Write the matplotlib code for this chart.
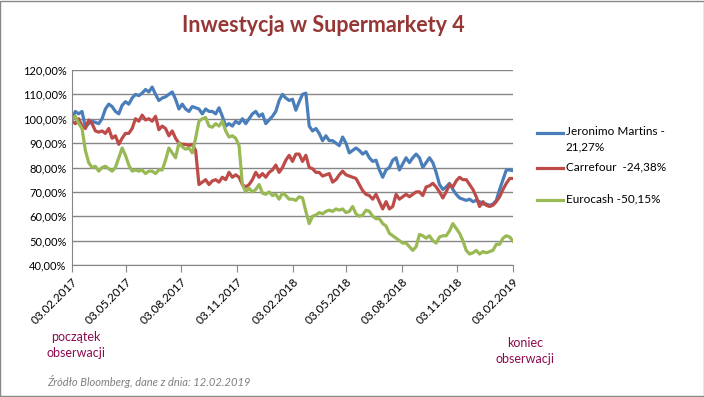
import pandas as pd
from matplotlib import pyplot as plt
from matplotlib.lines import Line2D
from matplotlib.patches import Rectangle
from matplotlib.ticker import FuncFormatter, MultipleLocator

plt.rcParams['font.family'] = ['Lato', 'DejaVu Sans']

start, end = '2017-02-03', '2019-02-03'

# wartości w %
jeronimo = [100, 103, 102, 103, 96.5, 98, 99, 98.5, 98, 100,
            104, 106, 105, 103, 102, 105.5, 107, 106, 108.5, 110,
            109.5, 110.5, 112, 111, 113, 110, 107.5, 108.5, 109, 110,
            111, 108, 104, 106, 104, 103, 105, 104.5, 104, 102,
            104, 103, 103, 102, 104.5, 101, 97, 98, 97, 99,
            98, 100, 98, 100, 102, 103, 101, 102, 98, 99.5,
            101, 103, 107.5, 110, 108.5, 107.5, 108, 103.5, 107, 110,
            110.5, 97, 95, 96, 94, 91, 93, 91, 91, 90,
            89, 92.5, 90, 86, 87, 88, 87, 85.5, 86.5, 84,
            82.5, 83, 79, 76, 79, 80, 83, 84, 79, 81.5,
            84, 82, 84, 85.5, 84, 80, 82, 84, 82, 78,
            73, 71, 72, 73.5, 71, 69, 67.5, 67, 66.5, 67,
            66, 66.5, 66, 65, 65, 64.5, 65, 66.5, 71, 75,
            79, 79, 78.7]

carrefour = [99, 98, 100, 97, 96, 99.5, 98, 95, 94.5, 95,
             94, 96, 92, 93, 89.5, 92, 94, 94, 96, 100,
             99, 101.5, 99.5, 100, 99, 101, 95.5, 97, 96, 93,
             95, 92, 90, 89.5, 89.5, 89, 89.5, 87, 73, 74,
             75, 73, 74.5, 75, 74, 76, 75, 78, 76, 77,
             76, 73, 72, 73, 75, 78, 76, 77.5, 76, 78,
             79, 81, 78, 80, 83, 85, 82.5, 85.5, 85.5, 82.5,
             85, 80, 79.5, 78, 78, 76.5, 77, 77.5, 74, 75,
             77, 78.5, 77, 76.5, 76, 75.5, 73, 70.5, 69, 68.5,
             67, 69, 66, 63, 66, 63, 64, 69, 67, 68,
             69, 68, 69, 70, 70, 68.5, 72, 72.5, 73.5, 72,
             70, 67.5, 70, 73, 72, 74.5, 76, 75, 75, 73,
             71, 68, 64, 66, 64.5, 64, 64.5, 66, 68, 71,
             73.5, 75.5, 75.5]

eurocash = [100, 101, 98, 96, 87, 82, 80, 80.5, 78.5, 80,
            80.5, 79.5, 78.5, 80, 84, 88, 85, 81, 78.5, 79,
            78.5, 79, 77.5, 78.5, 78.5, 77.5, 79, 79, 83, 88,
            86, 84, 90, 88.5, 87.5, 88, 86, 92, 99, 100,
            100.5, 97, 96.5, 98, 97, 99, 95, 92.5, 93, 92,
            89, 73, 70, 71.5, 70, 71, 73, 69.5, 69, 70,
            68.5, 69, 67, 69.5, 68.5, 67, 67, 66.5, 68, 67.5,
            62, 57, 60, 60.5, 61.5, 61, 62, 62.5, 62, 63,
            62.5, 63, 61.5, 62, 64, 61, 60, 60.5, 62.5, 62,
            60, 59, 59, 57, 56, 53, 52, 51, 50, 49,
            49, 47.5, 46, 47.5, 52.5, 52, 51, 52, 50, 49,
            51.5, 52, 52, 54, 57, 55, 53, 50, 46, 44.5,
            45, 46, 44.5, 45.5, 45, 45.5, 46, 48.5, 48.5, 51,
            52, 51.5, 49.8]

series = [
    (jeronimo, '#4A7EBB', 'Jeronimo Martins -\n21,27%'),
    (carrefour, '#BE4B48', 'Carrefour  -24,38%'),
    (eurocash, '#98B954', 'Eurocash -50,15%'),
]

tick_labels = ['03.02.2017', '03.05.2017', '03.08.2017', '03.11.2017',
               '03.02.2018', '03.05.2018', '03.08.2018', '03.11.2018',
               '03.02.2019']

fig = plt.figure(figsize=(7.04, 3.97), dpi=100)
ax = fig.add_axes([72 / 704, 1 - 265 / 397, 441 / 704, 195 / 397])

for vals, col, lab in series:
    d = pd.date_range(start, end, periods=len(vals))
    ax.plot(d, [v / 100 for v in vals], color=col, lw=2.3, solid_joinstyle='round')

ax.set_ylim(0.4, 1.2)
ax.set_xlim(pd.Timestamp(start), pd.Timestamp(end))
ax.yaxis.set_major_locator(MultipleLocator(0.1))
ax.yaxis.set_major_formatter(FuncFormatter(lambda v, p: f'{v * 100:.2f}%'.replace('.', ',')))
ax.grid(axis='y', color='#868686', lw=1)
ax.set_axisbelow(True)

ticks = pd.to_datetime(tick_labels, format='%d.%m.%Y')
ax.set_xticks(ticks)
ax.set_xticklabels(tick_labels, rotation=45, ha='right', rotation_mode='anchor')

for s in ['top', 'right']:
    ax.spines[s].set_visible(False)
for s in ['left', 'bottom']:
    ax.spines[s].set_color('#868686')
ax.tick_params(axis='x', length=5, color='#868686', labelsize=8.5, pad=3)
ax.tick_params(axis='y', length=0, labelsize=8, pad=4)

# legenda
leg_y = [133, 168, 200]
for (vals, col, lab), y in zip(series, leg_y):
    fig.add_artist(Line2D([537 / 704, 563 / 704], [1 - y / 397] * 2, color=col, lw=2.3))
    fig.text(566 / 704, 1 - (y - 7) / 397, lab, fontsize=8.5, va='top', linespacing=1.45)

fig.text(323 / 704, 1 - 25 / 397, 'Inwestycja w Supermarkety 4', fontsize=15.5,
         fontweight='bold', color='#953735', ha='center', va='center')
fig.text(76 / 704, 1 - 345 / 397, 'początek\nobserwacji', fontsize=9, color='#8B0A4E',
         ha='center', va='center', linespacing=1.4)
fig.text(525 / 704, 1 - 351 / 397, 'koniec\nobserwacji', fontsize=9, color='#8B0A4E',
         ha='center', va='center', linespacing=1.4)
fig.text(47 / 704, 1 - 381 / 397, 'Źródło Bloomberg, dane z dnia: 12.02.2019', fontsize=8,
         color='#7F7F7F', style='italic', va='center')

fig.add_artist(Rectangle((0.0007, 0.0013), 0.9986, 0.9974, transform=fig.transFigure,
                         fill=False, edgecolor='#888888', lw=1))

fig.savefig('out.png', dpi=100)
